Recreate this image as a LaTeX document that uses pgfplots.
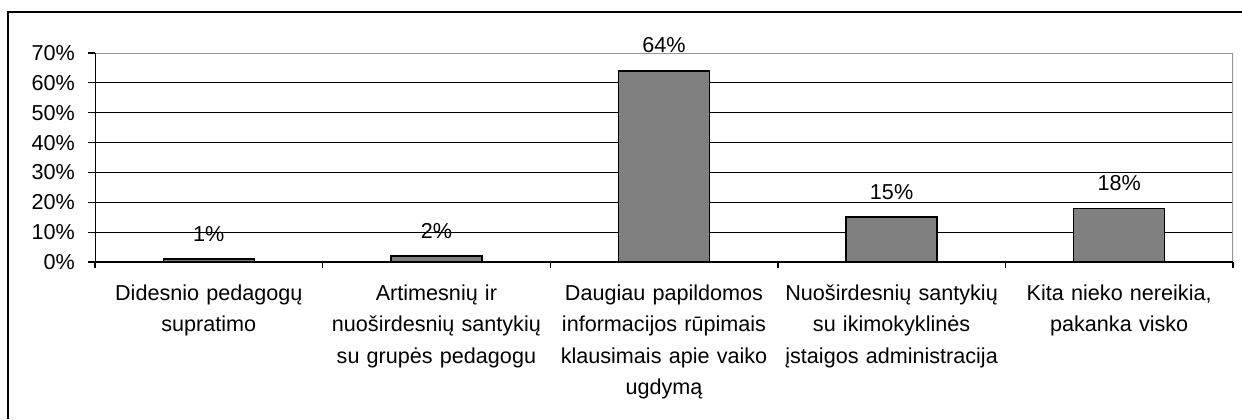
\documentclass[border=0pt]{standalone}
\usepackage{pgfplots}
\pgfplotsset{compat=1.18}
\usepackage{fontspec}
\setmainfont{Liberation Sans}
\newcommand\lbl{\fontsize{10.8pt}{15.6pt}\selectfont}
\definecolor{barg}{HTML}{808080}
\begin{document}
\begin{tikzpicture}
\useasboundingbox (0,0) rectangle (621pt,209.5pt);
\draw[line width=0.8pt] (4pt,0) -- (4pt,203.5pt) -- (621pt,203.5pt);
\begin{axis}[
  at={(47.5pt,78.5pt)}, anchor=south west,
  scale only axis, width=569pt, height=104.5pt,
  xmin=-0.5, xmax=4.5, ymin=0, ymax=70,
  ybar, bar width=0.4,
  axis line style={draw=none},
  /pgf/number format/assume math mode=true,
  ytick={0,10,...,70},
  yticklabel={\pgfmathprintnumber{\tick}\%},
  ymajorgrids,
  major grid style={black, line width=0.5pt},
  tick align=outside, tick pos=left,
  major tick length=3.5pt, minor tick length=3pt,
  every major y tick/.style={black, line width=0.6pt},
  every major x tick/.style={draw=none},
  every minor x tick/.style={black, line width=0.7pt},
  xtick={0,1,2,3,4},
  minor xtick={-0.5,0.5,1.5,2.5,3.5,4.5},
  xticklabels={
    {Didesnio pedagogų\\supratimo},
    {Artimesnių ir\\nuoširdesnių santykių\\su grupės pedagogu},
    {Daugiau papildomos\\informacijos rūpimais\\klausimais apie vaiko\\ugdymą},
    {Nuoširdesnių santykių\\su ikimokyklinės\\įstaigos administracija},
    {Kita nieko nereikia,\\pakanka visko}},
  ticklabel style={font=\lbl, text=black},
  xticklabel style={align=center, text width=125pt, yshift=-4.5pt},
  yticklabel style={xshift=-3pt},
  nodes near coords={\pgfmathprintnumber{\pgfplotspointmeta}\%},
  nodes near coords style={font=\lbl, inner sep=0pt, yshift=8.5pt, text=black},
]
\addplot[fill=barg, draw=black, line width=0.75pt] coordinates {(0,1) (1,2) (2,64) (3,15) (4,18)};
\draw[gray!80, line width=0.7pt] (rel axis cs:0,1) -- (rel axis cs:1,1) -- (rel axis cs:1,0);
\draw[black, line width=0.8pt] (rel axis cs:0,1) -- (rel axis cs:0,0) -- (rel axis cs:1,0);
\end{axis}
\end{tikzpicture}
\end{document}
